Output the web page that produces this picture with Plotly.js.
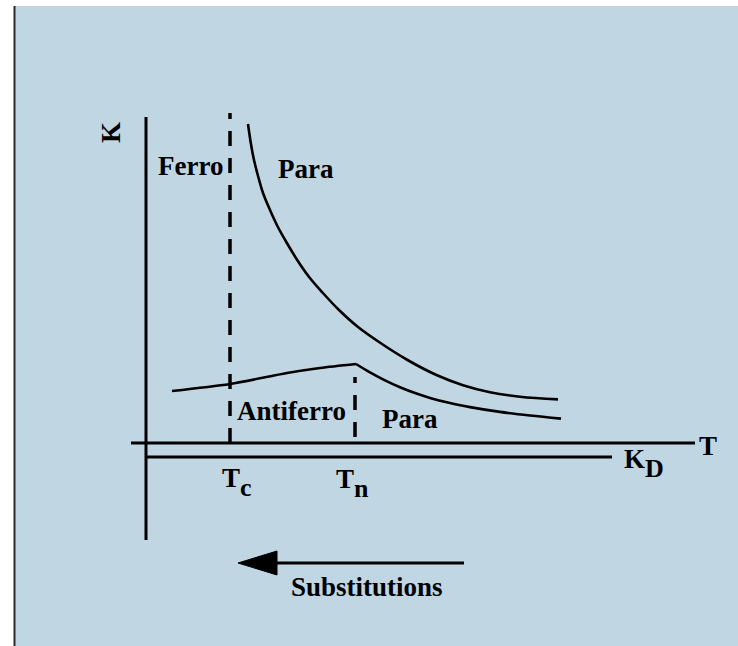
<!DOCTYPE html>
<html>
<head>
<meta charset="utf-8">
<script src="https://cdn.plot.ly/plotly-3.0.1.min.js"></script>
<style>
  html, body { margin: 0; padding: 0; background: #ffffff; }
  #chart { width: 738px; height: 646px; }
</style>
</head>
<body>
<div id="chart"></div>
<script>
// ---- Data (arbitrary T / K units, origin at axes crossing) ----
// Upper paramagnetic curve (Curie-like decay above Tc)
var paraUpperT = [10.20, 10.48, 10.80, 11.23, 11.70, 12.40, 13.19, 14.09, 15.12, 16.31, 17.69, 19.30, 21.20, 23.45, 26.15, 29.10, 31.70, 34.40, 37.40, 41.20];
var paraUpperK = [31.90, 30.00, 28.30, 26.60, 25.00, 23.30, 21.60, 20.00, 18.30, 16.60, 15.00, 13.30, 11.60, 10.00, 8.30, 6.77, 5.78, 5.08, 4.63, 4.36];
// Lower curve: antiferro branch (rising to the Neel point) and para branch (decaying)
var afBranchT = [2.6, 8.4, 14.1, 17.4, 21.0];
var afBranchK = [5.2, 5.9, 7.0, 7.5, 7.9];
var paraLowerT = [21.0, 22.4, 23.9, 25.4, 26.9, 28.4, 30.4, 32.4, 35.4, 38.4, 41.5];
var paraLowerK = [7.90, 7.06, 6.26, 5.57, 4.99, 4.51, 3.99, 3.59, 3.11, 2.75, 2.44];
// Characteristic temperatures
var Tc = 8.4;
var Tn = 20.9;
var TcLineTop = 33.0;
var TnLineBottom = 0.6;
var TnLineTop = 6.6;
// Axes extents
var kAxisK = [32.6, -9.7];
var tAxisT = [-1.5, 54.9];
var kdLevel = -1.4;
var kdT = [0, 46.6];
// Substitutions arrow
var arrowLevel = -12.0;
var arrowShaftT = [31.8, 12.5];
var arrowHeadT = [13.1, 9.2, 13.1, 13.1];
var arrowHeadK = [-10.8, -12.0, -13.2, -10.8];
// Labels
var labelText = ['K', 'Ferro', 'Para', 'Antiferro', 'Para', 'T', 'K<sub>D</sub>', 'T<sub>c</sub>', 'T<sub>n</sub>', 'Substitutions'];
var labelT    = [-3.5, 4.4, 16.0, 14.5, 26.4, 56.2, 49.8, 9.1, 20.6, 22.1];
var labelK    = [31.0, 27.7, 27.4, 3.2, 2.4, -0.3, -2.0, -3.9, -4.0, -14.4];
var labelAngle = [-90, 0, 0, 0, 0, 0, 0, 0, 0, 0];

var ink = '#000000';
var curveW = 2.6;
var axisW = 3;
var dashW = 3.5;

var traces = [
  {x: [0, 0], y: kAxisK, mode: 'lines', line: {color: ink, width: axisW}},
  {x: tAxisT, y: [0, 0], mode: 'lines', line: {color: ink, width: axisW}},
  {x: kdT, y: [kdLevel, kdLevel], mode: 'lines', line: {color: ink, width: axisW}},
  {x: [Tc, Tc], y: [0, TcLineTop], mode: 'lines', line: {color: ink, width: dashW, dash: '15px,12px'}},
  {x: [Tn, Tn], y: [TnLineBottom, TnLineTop], mode: 'lines', line: {color: ink, width: dashW, dash: '15px,12px'}},
  {x: paraUpperT, y: paraUpperK, mode: 'lines', line: {color: ink, width: curveW, shape: 'spline', smoothing: 1}},
  {x: afBranchT, y: afBranchK, mode: 'lines', line: {color: ink, width: curveW, shape: 'spline', smoothing: 0.8}},
  {x: paraLowerT, y: paraLowerK, mode: 'lines', line: {color: ink, width: curveW, shape: 'spline', smoothing: 1}},
  {x: arrowShaftT, y: [arrowLevel, arrowLevel], mode: 'lines', line: {color: ink, width: axisW}},
  {x: arrowHeadT, y: arrowHeadK, mode: 'lines', fill: 'toself', fillcolor: ink, line: {color: ink, width: 1}}
];

var font = {family: '"Liberation Serif", "DejaVu Serif", serif', size: 27, color: ink, weight: 'bold'};
var annotations = labelText.map(function (t, i) {
  var txt = t.replace(/<sub>(.*?)<\/sub>/, '<span style="font-size:26px;baseline-shift:-9px">$1</span>');
  return {
    x: labelT[i], y: labelK[i], xref: 'x', yref: 'y',
    text: txt, showarrow: false, textangle: labelAngle[i],
    xanchor: 'center', yanchor: 'middle', font: font
  };
});

var layout = {
  width: 738, height: 646,
  margin: {l: 0, r: 0, t: 0, b: 0, pad: 0},
  paper_bgcolor: '#ffffff',
  plot_bgcolor: 'rgba(0,0,0,0)',
  showlegend: false,
  xaxis: {range: [-14.6, 59.2], visible: false, fixedrange: true},
  yaxis: {range: [-20.3, 44.3], visible: false, fixedrange: true},
  shapes: [
    {type: 'rect', xref: 'paper', yref: 'paper', x0: 15 / 738, x1: 1, y0: 0, y1: 640 / 646,
     fillcolor: '#c0d6e3', line: {width: 0}, layer: 'below'},
    {type: 'line', xref: 'paper', yref: 'paper', x0: 14.5 / 738, x1: 14.5 / 738, y0: 0, y1: 640 / 646,
     line: {color: '#2a2a2a', width: 2}, layer: 'below'}
  ],
  annotations: annotations
};

Plotly.newPlot('chart', traces, layout, {displayModeBar: false, staticPlot: true});
</script>
</body>
</html>
